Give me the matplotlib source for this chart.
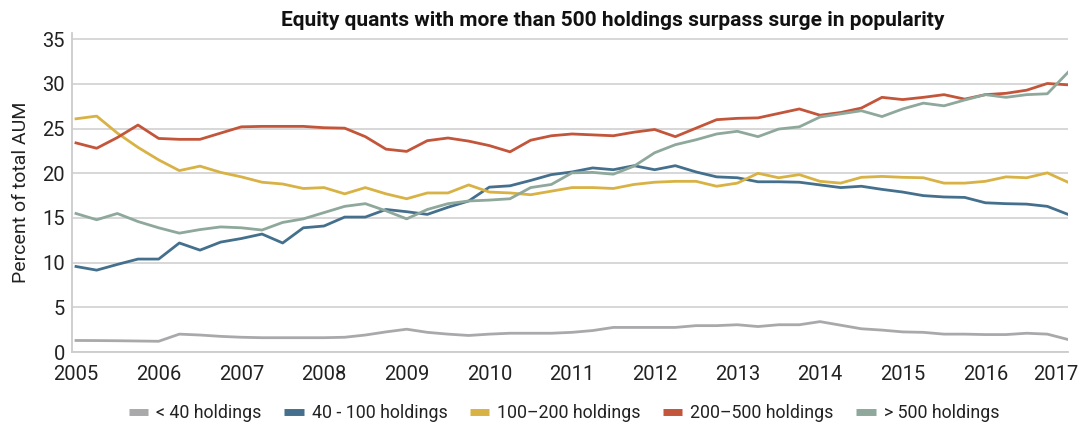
import numpy as np
import matplotlib
matplotlib.use("Agg")
import matplotlib.pyplot as plt
from matplotlib.lines import Line2D
import matplotlib.transforms as mtransforms

plt.rcParams['font.family'] = ['Roboto', 'DejaVu Sans']

# Quarterly observations 2005Q1 .. 2017Q1
start_year = 2005
n_quarters = 49
quarters = start_year + np.arange(n_quarters) / 4.0

lt40 = [1.29, 1.28, 1.26, 1.23, 1.2, 2.0, 1.9, 1.75, 1.65,
        1.6, 1.6, 1.6, 1.6, 1.65, 1.9, 2.25, 2.55,
        2.2, 2.0, 1.85, 2.0, 2.1, 2.1, 2.1, 2.2,
        2.4, 2.75, 2.75, 2.75, 2.75, 2.95, 2.95, 3.05,
        2.85, 3.05, 3.05, 3.4, 3.0, 2.6, 2.45, 2.25,
        2.2, 2.0, 2.0, 1.95, 1.95, 2.1, 2.0, 1.4]
h40_100 = [9.57, 9.16, 9.8, 10.4, 10.4, 12.2, 11.4, 12.3, 12.7,
           13.2, 12.2, 13.9, 14.1, 15.1, 15.1, 15.95, 15.7,
           15.4, 16.2, 16.9, 18.45, 18.6, 19.2, 19.85, 20.15,
           20.6, 20.4, 20.85, 20.4, 20.85, 20.15, 19.6, 19.5,
           19.05, 19.05, 19.0, 18.7, 18.4, 18.55, 18.2, 17.9,
           17.5, 17.35, 17.3, 16.7, 16.6, 16.55, 16.3, 15.4]
h100_200 = [26.1, 26.4, 24.5, 22.9, 21.5, 20.3, 20.8, 20.1, 19.6,
            19.0, 18.8, 18.3, 18.4, 17.7, 18.4, 17.7, 17.15,
            17.8, 17.8, 18.7, 17.9, 17.8, 17.6, 18.0, 18.4,
            18.4, 18.3, 18.75, 19.0, 19.1, 19.1, 18.55, 18.9,
            20.0, 19.5, 19.85, 19.1, 18.9, 19.55, 19.65, 19.55,
            19.5, 18.9, 18.9, 19.1, 19.6, 19.5, 20.05, 19.0]
h200_500 = [23.4, 22.8, 24.0, 25.4, 23.9, 23.8, 23.8, 24.5, 25.2,
            25.25, 25.25, 25.25, 25.1, 25.05, 24.1, 22.7, 22.45,
            23.65, 23.95, 23.6, 23.1, 22.4, 23.7, 24.2, 24.4,
            24.3, 24.2, 24.6, 24.9, 24.1, 25.05, 26.0, 26.15,
            26.2, 26.7, 27.2, 26.5, 26.8, 27.3, 28.5, 28.25,
            28.5, 28.8, 28.3, 28.8, 28.95, 29.3, 30.05, 29.9]
gt500 = [15.5, 14.8, 15.5, 14.6, 13.9, 13.3, 13.7, 14.0, 13.9,
         13.65, 14.5, 14.9, 15.6, 16.3, 16.6, 15.8, 14.9,
         15.95, 16.6, 16.9, 17.0, 17.15, 18.4, 18.75, 20.05,
         20.1, 19.9, 20.8, 22.3, 23.2, 23.75, 24.4, 24.7,
         24.1, 24.95, 25.2, 26.3, 26.65, 27.0, 26.35, 27.2,
         27.85, 27.55, 28.2, 28.8, 28.5, 28.8, 28.9, 31.3]

series_labels = ['< 40 holdings', '40 - 100 holdings', '100\u2013200 holdings',
                 '200\u2013500 holdings', '> 500 holdings']
series_values = [lt40, h40_100, h100_200, h200_500, gt500]
colors = ['#a9a9ab', '#44708d', '#d8b244', '#c2553a', '#8ea89c']

year_ticks = list(range(2005, 2018))
y_ticks = [0, 5, 10, 15, 20, 25, 30, 35]

fig = plt.figure(figsize=(10.85, 4.25), dpi=100)
W, H = 1085, 425
ax = fig.add_axes([72 / W, 1 - 352 / H, (1068 - 72) / W, (352 - 33) / H])

for vals, c, lab in zip(series_values, colors, series_labels):
    ax.plot(quarters, vals, color=c, lw=2.0, label=lab, solid_joinstyle='round')

ax.set_xlim(2005 - 4 / 82.67, 2017.0)
ax.set_ylim(0, 35.7)
ax.set_yticks(y_ticks)
ax.set_xticks(year_ticks)
ax.set_xticklabels([str(y) for y in year_ticks])
ax.grid(axis='y', color='#d4d4d4', lw=1.3)
ax.set_axisbelow(True)
ax.tick_params(length=0, labelsize=14.5, colors='#222222')
ax.tick_params(axis='y', pad=5)
ax.tick_params(axis='x', pad=9)
for s in ['top', 'right']:
    ax.spines[s].set_visible(False)
ax.spines['left'].set_color('#cccccc')
ax.spines['left'].set_linewidth(1.3)
ax.spines['bottom'].set_color('#cccccc')
ax.spines['bottom'].set_linewidth(1.3)

# shift last x label inward
lbls = ax.get_xticklabels()
off = mtransforms.ScaledTranslation(-12 / 100, 0, fig.dpi_scale_trans)
lbls[-1].set_transform(lbls[-1].get_transform() + off)

ax.set_ylabel('Percent of total AUM', fontsize=14, color='#222222', labelpad=9)

fig.text(613 / W, 1 - 20 / H, 'Equity quants with more than 500 holdings surpass surge in popularity',
         ha='center', va='center', fontsize=15, fontweight='bold', color='#111111')

handles = [Line2D([0], [0], color=c, lw=5, solid_capstyle='butt') for c in colors]
fig.legend(handles, series_labels, loc='center', bbox_to_anchor=(564 / W, 1 - 413 / H),
           ncol=5, frameon=False, fontsize=12.8, handlelength=1.1, handletextpad=0.45,
           columnspacing=1.25, labelcolor='#222222')

fig.savefig('out.png', dpi=100)
